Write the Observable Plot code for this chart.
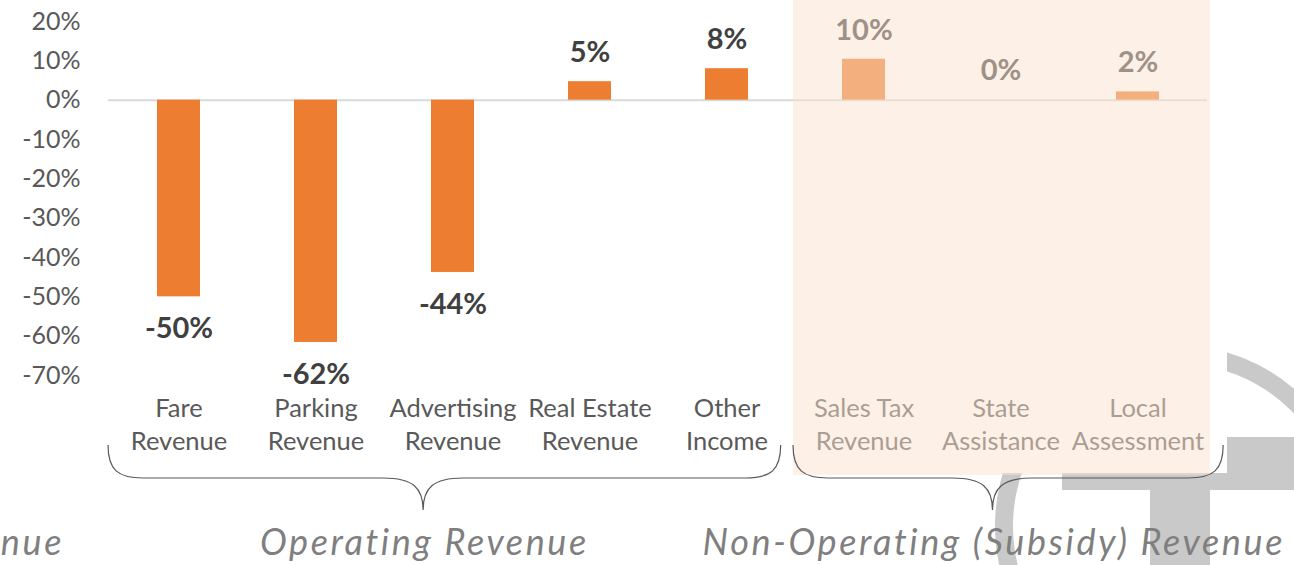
<!DOCTYPE html>
<html>
<head>
<meta charset="utf-8">
<script src="https://cdn.jsdelivr.net/npm/d3@7"></script>
<script src="https://cdn.jsdelivr.net/npm/@observablehq/plot@0.6"></script>
<style>
  html, body { margin: 0; padding: 0; background: #ffffff; overflow: hidden; }
  #chart svg { display: block; }
</style>
</head>
<body>
<div id="chart"></div>
<script>
// ---- data ----
const categories = [
  "Fare\nRevenue", "Parking\nRevenue", "Advertising\nRevenue", "Real Estate\nRevenue",
  "Other\nIncome", "Sales Tax\nRevenue", "State\nAssistance", "Local\nAssessment"
];
const values = [-0.50, -0.616, -0.438, 0.047, 0.08, 0.104, 0.0, 0.021];
const groups = ["Operating", "Operating", "Operating", "Operating", "Operating",
                "Non-Operating", "Non-Operating", "Non-Operating"];
const groupNames = ["Operating", "Non-Operating"];
const groupLabels = ["Operating Revenue", "Non-Operating (Subsidy) Revenue"];
const clippedLabel = "nue";
const yTicks = [0.2, 0.1, 0, -0.1, -0.2, -0.3, -0.4, -0.5, -0.6, -0.7];

const data = categories.map((c, i) => ({ category: c, value: values[i], group: groups[i] }));
const fmt = v => Math.round(v * 100) + "%";

const FONT = "Lato, 'Open Sans', sans-serif";

const plot = Plot.plot({
  width: 1294,
  height: 565,
  marginTop: 21,
  marginBottom: 190,
  marginLeft: 108,
  marginRight: 87,
  style: { fontFamily: FONT, background: "transparent", overflow: "visible" },
  x: { domain: categories, paddingInner: 0.687, paddingOuter: 0.3435, axis: null, label: null },
  y: { domain: [-0.7, 0.2], axis: null, label: null },
  marks: [
    Plot.ruleY([0], { stroke: "#d9d9d9", strokeWidth: 2 }),
    Plot.barY(data, { x: "category", y: "value", fill: "#ED7D31" }),
    Plot.axisY(yTicks, { tickSize: 0, tickPadding: 28, tickFormat: fmt, fontSize: 25, color: "#595959", label: null }),
    Plot.axisX({ tickSize: 0, tickPadding: 18, fontSize: 25.5, lineHeight: 1.3, color: "#595959", label: null }),
    Plot.text(data.filter(d => d.value < 0), {
      x: "category", y: "value", text: d => fmt(d.value), dy: 32,
      fontSize: 29, fontWeight: "bold", fill: "#404040"
    }),
    Plot.text(data.filter(d => d.value >= 0), {
      x: "category", y: "value", text: d => fmt(d.value), dy: -29,
      fontSize: 29, fontWeight: "bold", fill: "#404040"
    })
  ]
});

document.getElementById("chart").appendChild(plot);

// ---- annotations derived from the x scale ----
const svg = d3.select(plot);
const xs = plot.scale("x");
const bw = xs.bandwidth;
const step = xs.step;
const gap = (step - bw) / 2;
const bandStart = c => xs.apply(c) - gap;
const bandEnd = c => xs.apply(c) + bw + gap;
const yBottom = 375; // frame bottom

const nonOp = categories.filter((c, i) => groups[i] === "Non-Operating");
const ovX0 = bandStart(nonOp[0]) - 2;
const ovX1 = bandEnd(nonOp[nonOp.length - 1]) + 4;
const ovY1 = yBottom + 100;

// decorative watermark behind chart
const wm = svg.insert("g", ":first-child");
wm.append("circle").attr("cx", 1176).attr("cy", 526).attr("r", 172)
  .attr("fill", "none").attr("stroke", "#c9c9c9").attr("stroke-width", 18);
wm.append("rect").attr("x", 1062).attr("y", 437).attr("width", 240).attr("height", 53).attr("fill", "#c9c9c9");
wm.append("rect").attr("x", 1150).attr("y", 490).attr("width", 60).attr("height", 80).attr("fill", "#c9c9c9");
wm.append("rect").attr("x", ovX0).attr("y", 0).attr("width", ovX1 - ovX0 + 17).attr("height", ovY1 - 2).attr("fill", "#ffffff");

// translucent highlight over non-operating categories
svg.append("rect")
  .attr("x", ovX0).attr("y", 0)
  .attr("width", ovX1 - ovX0).attr("height", ovY1)
  .attr("fill", "#fce1cd").attr("fill-opacity", 0.5);

// braces (positions in band units)
const braceLayout = [
  { start: 0.0, end: 4.91, tip: 2.30 },
  { start: 5.0, end: 8.14, tip: 6.456 }
];
const x0px = xs.range[0];
const u = t => x0px + t * step;
const yEnd = 445, yMid = 478, yTip = 510;

braceLayout.forEach((b, i) => {
  const a = u(b.start), e = u(b.end), t = u(b.tip);
  const p = `M${a},${yEnd} C${a},${yMid - 8} ${a + 10},${yMid} ${a + 35},${yMid}`
    + ` L${t - 40},${yMid} C${t - 10},${yMid} ${t},${yMid + 10} ${t},${yTip}`
    + ` C${t},${yMid + 10} ${t + 10},${yMid} ${t + 40},${yMid}`
    + ` L${e - 35},${yMid} C${e - 10},${yMid} ${e},${yMid - 8} ${e},${yEnd}`;
  svg.append("path").attr("d", p).attr("fill", "none")
    .attr("stroke", "#595959").attr("stroke-width", 1.2);
  svg.append("text")
    .attr("x", t + 1.3).attr("y", 555)
    .attr("text-anchor", "middle")
    .attr("font-family", FONT).attr("font-style", "italic")
    .attr("font-size", 36).attr("letter-spacing", 2.6).attr("fill", "#7f7f7f")
    .text(groupLabels[i]);
});

svg.append("text")
  .attr("x", 64).attr("y", 555)
  .attr("text-anchor", "end")
  .attr("font-family", FONT).attr("font-style", "italic")
  .attr("font-size", 36).attr("letter-spacing", 2.6).attr("fill", "#7f7f7f")
  .text(clippedLabel);
</script>
</body>
</html>
